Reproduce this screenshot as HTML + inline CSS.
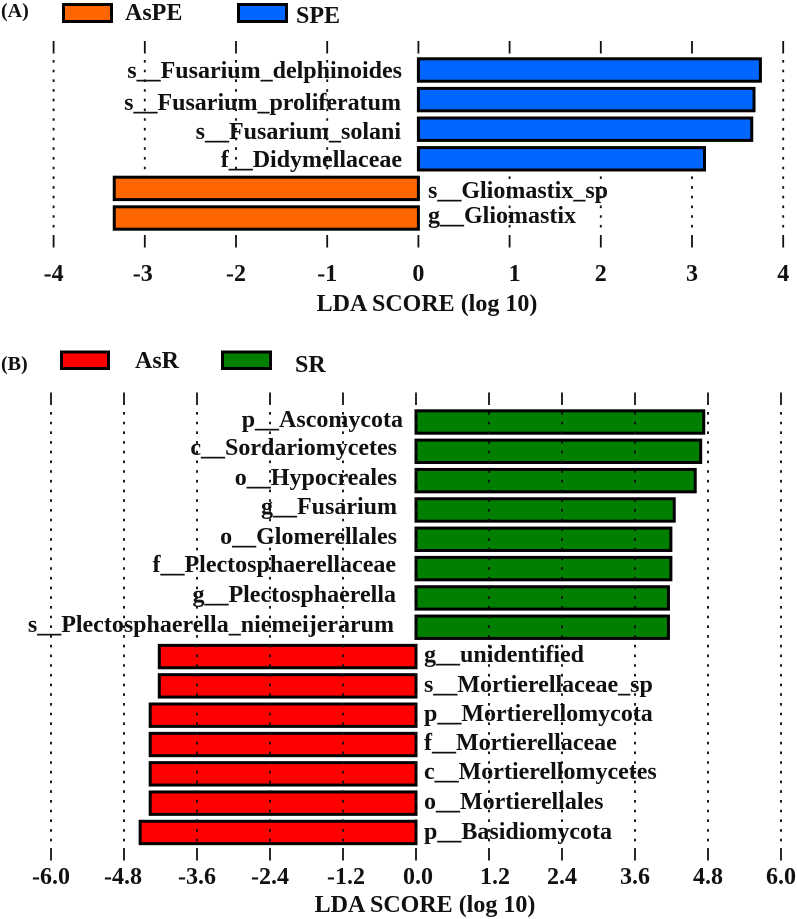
<!DOCTYPE html>
<html lang="en">
<head>
<meta charset="utf-8">
<title>LDA score charts</title>
<style>
html,body{margin:0;padding:0;background:#fff;}
svg{display:block;}
text{font-family:"Liberation Serif",serif;font-weight:bold;fill:#111;}
.lab{font-size:24px;}
.tick{font-size:24px;}
.title{font-size:24px;}
.leg{font-size:24px;}
.pan{font-size:20px;}
</style>
</head>
<body>
<svg id="chart" xmlns="http://www.w3.org/2000/svg" width="797" height="919" viewBox="0 0 797 919">
  <g>
    <text class="pan" x="1" y="17">(A)</text>
    <rect x="63.5" y="4.5" width="48" height="17" fill="#ff6600" stroke="#000" stroke-width="3"/>
    <text class="leg" x="125" y="20">AsPE</text>
    <rect x="238.5" y="4.5" width="48" height="17" fill="#0066ff" stroke="#000" stroke-width="3"/>
    <text class="leg" x="296" y="23">SPE</text>
  </g>
  <g id="panelA"></g>
  <text class="title" x="427" y="311" text-anchor="middle">LDA SCORE (log 10)</text>

  <g>
    <text class="pan" x="1" y="370">(B)</text>
    <rect x="61.5" y="352" width="47" height="16.5" fill="#ff0000" stroke="#000" stroke-width="3"/>
    <text class="leg" x="135" y="368">AsR</text>
    <rect x="222.5" y="352" width="48" height="16.5" fill="#007f00" stroke="#000" stroke-width="3"/>
    <text class="leg" x="295" y="372">SR</text>
  </g>
  <g id="panelB"></g>
  <text class="title" x="425" y="912" text-anchor="middle">LDA SCORE (log 10)</text>
</svg>
<script>
// Panel A data
const categoriesA = ["s__Fusarium_delphinoides","s__Fusarium_proliferatum","s__Fusarium_solani","f__Didymellaceae","s__Gliomastix_sp","g__Gliomastix"];
const valuesA = [3.75,3.68,3.655,3.137,-3.335,-3.335];
const tickLabelsA = ["-4","-3","-2","-1","0","1","2","3","4"];
// Panel B data
const categoriesB = ["p__Ascomycota","c__Sordariomycetes","o__Hypocreales","g__Fusarium","o__Glomerellales","f__Plectosphaerellaceae","g__Plectosphaerella","s__Plectosphaerella_niemeijerarum","g__unidentified","s__Mortierellaceae_sp","p__Mortierellomycota","f__Mortierellaceae","c__Mortierellomycetes","o__Mortierellales","p__Basidiomycota"];
const valuesB = [4.73,4.68,4.59,4.245,4.19,4.19,4.15,4.15,-4.22,-4.22,-4.37,-4.37,-4.37,-4.37,-4.535];
const tickLabelsB = ["-6.0","-4.8","-3.6","-2.4","-1.2","0.0","1.2","2.4","3.6","4.8","6.0"];

const NS = "http://www.w3.org/2000/svg";
function make(parent, tag, attrs, txt){
  const el = document.createElementNS(NS, tag);
  for (const k in attrs) el.setAttribute(k, attrs[k]);
  if (txt !== undefined) el.textContent = txt;
  parent.appendChild(el);
  return el;
}
function slug(s){ return s.toLowerCase().replace(/[^a-z0-9]+/g,'-').replace(/^-|-$/g,''); }

function drawPanel(cfg){
  const g = document.getElementById(cfg.id);
  const x = v => cfg.x0 + v * cfg.unit;
  const rowY = i => cfg.rowTop + i * cfg.rowStep;

  function drawGrid(){
    cfg.ticks.forEach(function(t){
      const v = parseFloat(t);
      const top = make(g,'line',{x1:x(v),x2:x(v),y1:cfg.tickTop,y2:cfg.tickTop+12.5,stroke:'#111','stroke-width':1.8});
      
      
      const dots = make(g,'line',{x1:x(v),x2:x(v),y1:cfg.dotTop,y2:cfg.dotBottom,stroke:'#111','stroke-width':1.9,'stroke-dasharray':'2.6 7.1'});
      
      
      const bot = make(g,'line',{x1:x(v),x2:x(v),y1:cfg.tickBottom,y2:cfg.tickBottom+12.5,stroke:'#111','stroke-width':1.8});
      
      
      const lab = make(g,'text',{class:'tick',x:x(v)+(cfg.tickNudge[t]||0),y:cfg.tickY,'text-anchor':'middle'},t);
      
      
    });
  }
  function drawBars(){
    cfg.values.forEach(function(v,i){
      const x1 = Math.min(x(0),x(v)), x2 = Math.max(x(0),x(v));
      const bar = make(g,'rect',{x:x1,y:rowY(i)+1.5,width:x2-x1,height:cfg.barH-3,
        fill:v>=0?cfg.posColor:cfg.negColor,stroke:'#000','stroke-width':3});
      
      
    });
  }
  if (cfg.gridOnTop){ drawBars(); drawGrid(); } else { drawGrid(); drawBars(); }

  cfg.cats.forEach(function(c,i){
    const pos = cfg.values[i] >= 0;
    const t = make(g,'text',{class:'lab',
      x: pos ? cfg.labelEnd[i] : cfg.labelStart,
      y: cfg.labelBaseline[i],
      'text-anchor': pos ? 'end' : 'start'},c);
    
    
  });
}

drawPanel({id:'panelA',cats:categoriesA,values:valuesA,ticks:tickLabelsA,
  x0:418.4,unit:91.2,rowTop:57.3,rowStep:29.6,barH:25.4,
  tickTop:41,tickBottom:235,dotTop:60,dotBottom:231,tickY:281,
  posColor:'#0066ff',negColor:'#ff6600',gridOnTop:false,
  tickNudge:{"1":5,"-3":-2},
  labelEnd:[402,401,401,402],labelStart:428,
  labelBaseline:[78,110,139,167,198,223]});

drawPanel({id:'panelB',cats:categoriesB,values:valuesB,ticks:tickLabelsB,
  x0:416,unit:60.83,rowTop:409.3,rowStep:29.32,barH:25.4,
  tickTop:392.5,tickBottom:848,dotTop:412,dotBottom:845,tickY:884,
  posColor:'#007f00',negColor:'#ff0000',gridOnTop:true,
  tickNudge:{"1.2":6,"-1.2":3,"-4.8":-1,"0.0":2},
  labelEnd:[403,397,397,397,397,396,396,394],labelStart:424,
  labelBaseline:[427,455,485,514,544,572,602,632,662,692,721,750,779,809,839]});
</script>
</body>
</html>
